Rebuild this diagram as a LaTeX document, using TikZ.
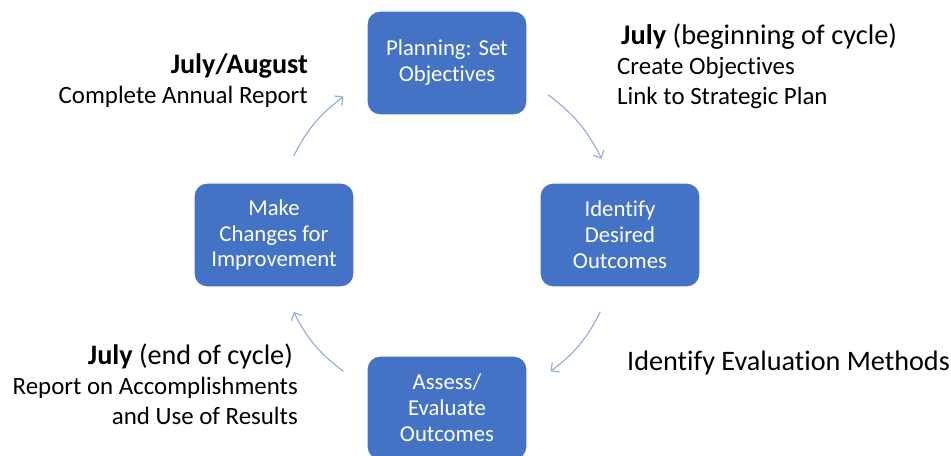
\documentclass[tikz,border=0pt]{standalone}
\usepackage{fontspec}
\setmainfont{Carlito}[Ligatures=NoCommon]
\usetikzlibrary{arrows.meta,positioning}
\definecolor{boxblue}{HTML}{4472C4}
\definecolor{arrowblue}{HTML}{8FAADC}
\tikzset{box/.style={rectangle, rounded corners=13bp, fill=boxblue, draw=white,
  line width=1.2bp, minimum width=160bp, minimum height=104bp,
  align=center, text=white, font=\fontsize{22.8}{26}\selectfont}, % the four stages
cyc/.style={arrowblue, line width=1.1bp,
  -{Straight Barb[length=6bp,width=12bp]}}, % arrows round the cycle
note/.style={inner sep=0pt, font=\fontsize{25}{30}\selectfont}, % text beside the cycle
big/.style={font=\fontsize{28.3}{30}\selectfont}, % bigger single line
}

\begin{document}
\begin{tikzpicture}[x=1bp, y=1bp]
\useasboundingbox (0,0) rectangle (951,456);
\coordinate (o) at (447,222);
\node[box] (plan) at (447,393) {Planning: Set\\ Objectives};
\node[box] (outc) at (620,221) {Identify\\ Desired\\ Outcomes};
\node[box] (assess) at (447,48) {Assess/\\ Evaluate\\ Outcomes};
\node[box] (change) at (274,221) {Make\\ Changes for\\ Improvement};
% arrow ends on a circle round the middle
\foreach \n/\a in {1/153, 2/127, 3/54, 4/26, 5/-27, 6/-53, 7/-127, 8/-153}
  \coordinate (c\n) at ([shift={(\a:172)}]o);
\draw[cyc] (c1) to[bend left=13] (c2);
\draw[cyc] (c3) to[bend left=13] (c4);
\draw[cyc] (c5) to[bend left=13] (c6);
\draw[cyc] (c7) to[bend left=13] (c8);
% notes
\node[note, anchor=east, align=right] (aug) at (308,375)
  {{\fontsize{28.3}{30}\selectfont\bfseries July/August}\\ Complete Annual Report};
\node[note, anchor=west, align=left] (beg) at (617,390)
  {\hspace*{4bp}{\fontsize{28.5}{30}\selectfont\textbf{July} (beginning of cycle)}\\ Create Objectives\\ Link to Strategic Plan};
\node[note, big, anchor=west] (eval) at (627,93) {Identify Evaluation Methods};
\node[note, anchor=east, align=right] (end) at (298,72)
  {{\fontsize{28.3}{30}\selectfont\textbf{July} (end of cycle)}\hspace*{5bp}\\ Report on Accomplishments\\ and Use of Results};
\end{tikzpicture}
\end{document}
